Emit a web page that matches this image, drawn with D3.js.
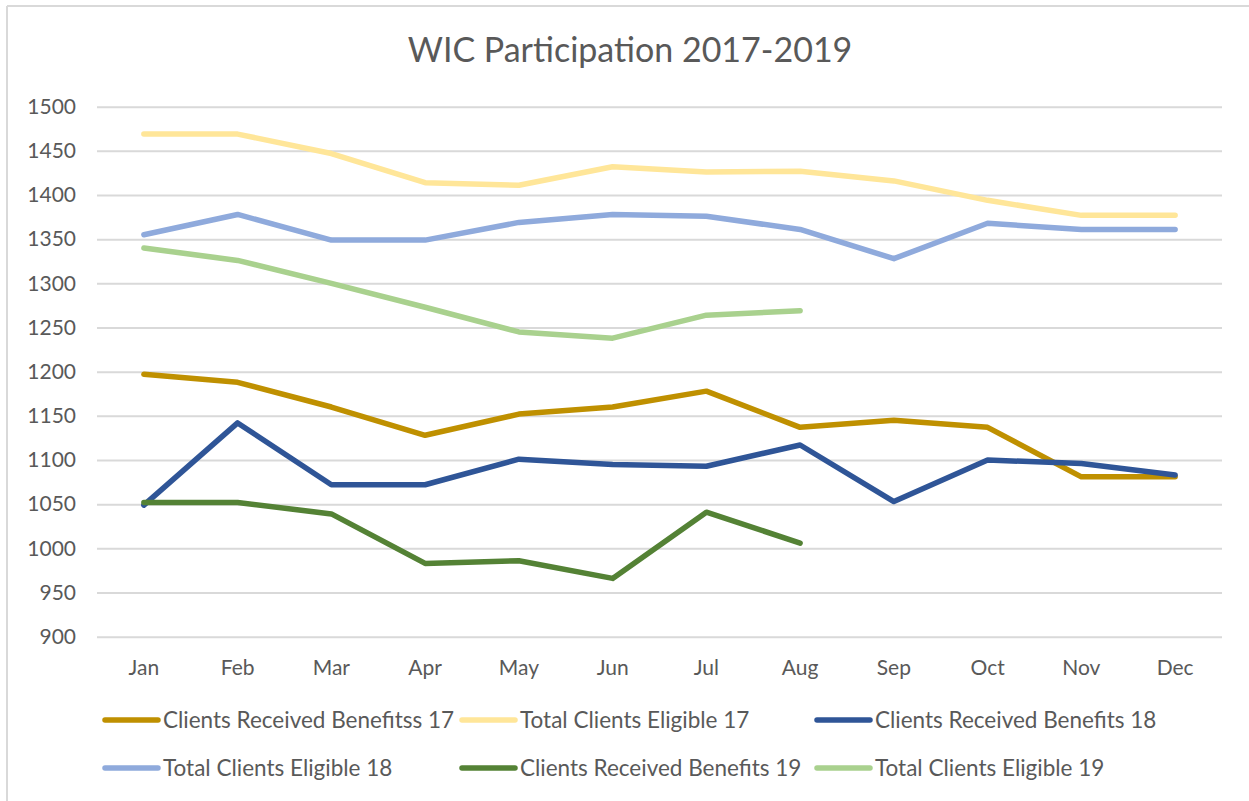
<!DOCTYPE html>
<html>
<head>
<meta charset="utf-8">
<script src="https://cdn.jsdelivr.net/npm/d3@7"></script>
<style>
  body { margin: 0; background: #fff; }
  text { font-family: Lato, "Open Sans", sans-serif; fill: #595959; }
</style>
</head>
<body>
<div id="chart"></div>
<script>
var months = ["Jan","Feb","Mar","Apr","May","Jun","Jul","Aug","Sep","Oct","Nov","Dec"];
var yTicks = [900, 950, 1000, 1050, 1100, 1150, 1200, 1250, 1300, 1350, 1400, 1450, 1500];

var received17 = [1197, 1188, 1160, 1128, 1152, 1160, 1178, 1137, 1145, 1137, 1081, 1081];
var eligible17 = [1469, 1469, 1447, 1414, 1411, 1432, 1426, 1427, 1416, 1394, 1377, 1377];
var received18 = [1049, 1142, 1072, 1072, 1101, 1095, 1093, 1117, 1053, 1100, 1096, 1083];
var eligible18 = [1355, 1378, 1349, 1349, 1369, 1378, 1376, 1361, 1328, 1368, 1361, 1361];
var received19 = [1052, 1052, 1039, 983, 986, 966, 1041, 1006];
var eligible19 = [1340, 1326, 1300, 1273, 1245, 1238, 1264, 1269];

var seriesNames = ["Clients Received Benefitss 17", "Total Clients Eligible 17", "Clients Received Benefits 18",
                   "Total Clients Eligible 18", "Clients Received Benefits 19", "Total Clients Eligible 19"];
var seriesColors = ["#BF9000", "#FFE699", "#2F5597", "#8FAADC", "#548235", "#A9D18E"];
var seriesValues = [received17, eligible17, received18, eligible18, received19, eligible19];

var width = 1249, height = 801;
var plotLeft = 97, plotRight = 1222, plotTop = 106.7, plotBottom = 636.7;

var svg = d3.select("#chart")
    .append("svg")
    .attr("width", width)
    .attr("height", height);

// outer frame (only top and left edges show)
svg.append("line").attr("x1", 7).attr("y1", 6).attr("x2", width).attr("y2", 6)
    .attr("stroke", "#D9D9D9").attr("stroke-width", 2);
svg.append("line").attr("x1", 7).attr("y1", 6).attr("x2", 7).attr("y2", height)
    .attr("stroke", "#D9D9D9").attr("stroke-width", 2);

svg.append("text")
    .attr("x", 630).attr("y", 62)
    .attr("text-anchor", "middle")
    .style("font-size", "34px")
    .text("WIC Participation 2017-2019");

var x = d3.scaleBand().domain(months).range([plotLeft, plotRight]);
var y = d3.scaleLinear().domain([900, 1500]).range([plotBottom, plotTop]);

// gridlines + y labels
var yAxis = svg.append("g")
    .attr("transform", "translate(" + plotLeft + ",0)")
    .call(d3.axisLeft(y).tickValues(yTicks).tickSize(-(plotRight - plotLeft)).tickPadding(21).tickFormat(d3.format("d")));
yAxis.select(".domain").remove();
yAxis.selectAll(".tick line").attr("stroke", "#D9D9D9").attr("stroke-width", 2);
yAxis.selectAll(".tick text").style("font-size", "21px").attr("fill", "#595959");

var xAxis = svg.append("g")
    .attr("transform", "translate(0," + plotBottom + ")")
    .call(d3.axisBottom(x).tickSize(0).tickPadding(23));
xAxis.select(".domain").remove();
xAxis.selectAll(".tick text").style("font-size", "21px").attr("fill", "#595959");

var line = d3.line()
    .x(function(d, i) { return x(months[i]) + x.bandwidth() / 2; })
    .y(function(d) { return y(d); });

for (var s = 0; s < seriesValues.length; s++) {
    svg.append("path")
        .datum(seriesValues[s])
        .attr("d", line)
        .attr("fill", "none")
        .attr("stroke", seriesColors[s])
        .attr("stroke-width", 5.5)
        .attr("stroke-linejoin", "round")
        .attr("stroke-linecap", "round");
}

// legend
var legendX = [103, 460, 815];
var legendY = [720, 768];
for (var k = 0; k < seriesNames.length; k++) {
    var lx = legendX[k % 3], ly = legendY[Math.floor(k / 3)];
    svg.append("line")
        .attr("x1", lx + 2).attr("x2", lx + 55)
        .attr("y1", ly).attr("y2", ly)
        .attr("stroke", seriesColors[k])
        .attr("stroke-width", 5.5)
        .attr("stroke-linecap", "round");
    svg.append("text")
        .attr("x", lx + 60).attr("y", ly + 8)
        .style("font-size", "22.5px")
        .text(seriesNames[k]);
}
</script>
</body>
</html>
